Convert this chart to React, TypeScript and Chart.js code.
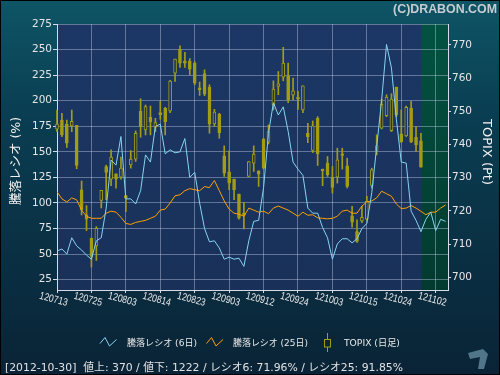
import React, { useEffect, useRef } from 'react';
import { Chart, registerables } from 'chart.js';
Chart.register(...registerables);

// x-axis tick labels (every 7 trading days)
const dateLabels = ['120713', '120725', '120803', '120814', '120823', '120903', '120912', '120924', '121003', '121015', '121024', '121102'];
const labelIdx = [0, 7, 14, 21, 28, 35, 42, 49, 56, 63, 70, 77];

// TOPIX daily candles (Pt)
const opens = [744.6, 747.4, 746.2, 745.6, 745.8, 726.4, 718.8, 711.8, 709.5, 723.2, 733.4, 729.6, 731.2, 730.2, 724.6, 733.9, 735.6, 750.1, 744.4, 748.2, 745.2, 749.6, 751.0, 750.1, 761.5, 768.7, 765.1, 765.1, 764.5, 757.1, 761.4, 757.3, 746.2, 749.2, 736.6, 731.8, 729.6, 725.1, 719.3, 730.4, 734.4, 732.1, 741.6, 740.7, 752.0, 757.5, 760.3, 760.7, 754.9, 754.3, 750.4, 743.4, 738.2, 747.9, 732.6, 734.4, 730.2, 730.2, 737.2, 733.6, 718.5, 713.8, 717.0, 717.5, 727.7, 738.2, 744.9, 748.7, 744.2, 757.3, 743.2, 742.6, 751.0, 742.2, 741.1];
const highs = [750.4, 749.4, 747.4, 750.4, 745.8, 729.0, 721.6, 711.8, 715.3, 726.2, 733.8, 738.4, 731.2, 736.2, 724.6, 738.2, 744.1, 753.8, 751.9, 751.6, 747.9, 753.0, 751.2, 759.3, 765.7, 769.7, 767.8, 765.9, 765.0, 758.8, 762.5, 758.0, 750.6, 749.4, 739.6, 738.1, 729.6, 725.1, 722.6, 734.9, 739.6, 732.1, 741.9, 745.9, 759.2, 762.0, 769.3, 764.5, 760.0, 756.0, 757.7, 746.4, 747.1, 748.4, 732.6, 736.4, 733.4, 738.9, 738.9, 735.9, 721.4, 717.3, 721.4, 724.4, 732.9, 742.9, 753.7, 755.0, 755.3, 757.3, 750.4, 751.6, 753.0, 745.4, 743.4];
const lows = [743.9, 742.4, 739.1, 743.9, 732.7, 718.8, 714.1, 703.1, 705.1, 720.9, 723.4, 727.6, 726.9, 729.6, 719.8, 732.9, 734.9, 742.2, 742.9, 742.9, 743.9, 747.6, 742.9, 749.6, 759.0, 763.2, 763.2, 761.0, 758.0, 754.8, 754.7, 743.4, 745.6, 741.9, 730.4, 726.4, 723.4, 717.5, 714.6, 730.4, 731.9, 727.4, 732.6, 740.2, 750.4, 755.0, 759.2, 752.6, 753.5, 750.6, 749.6, 740.6, 737.6, 733.7, 727.6, 730.4, 725.4, 728.4, 732.6, 726.9, 715.1, 710.5, 716.5, 717.3, 726.9, 736.9, 744.7, 748.4, 743.9, 748.4, 740.6, 742.4, 740.6, 737.9, 733.2];
const closes = [746.2, 742.9, 740.4, 747.0, 733.7, 720.4, 717.5, 706.3, 714.8, 726.2, 731.6, 736.2, 729.6, 732.9, 723.9, 735.6, 743.4, 745.4, 751.4, 746.8, 746.6, 749.0, 746.9, 759.1, 765.7, 764.5, 764.5, 762.7, 758.5, 756.5, 755.2, 746.1, 749.8, 743.6, 731.4, 728.4, 726.4, 717.8, 718.7, 734.9, 737.1, 731.1, 732.9, 743.9, 756.7, 758.3, 764.5, 753.5, 756.2, 753.7, 757.7, 742.4, 745.6, 737.2, 732.1, 730.9, 727.1, 735.4, 736.7, 727.4, 716.6, 710.8, 718.1, 722.9, 732.4, 739.6, 752.2, 754.3, 753.7, 749.0, 740.9, 751.2, 740.8, 739.9, 733.2];

// Advance/decline ratio (%)
const ratio6 = [53, 55, 50, 66, 58, 54, 49, 45, 63, 66, 95, 142, 137, 165, 104, 104, 99, 112, 147, 140, 175, 177, 148, 152, 149, 150, 163, 125, 130, 100, 75, 62, 63, 56, 45, 47, 45, 46, 38, 63, 82, 83, 115, 168, 198, 186, 194, 170, 140, 133, 127, 95, 90, 90, 76, 66, 45, 60, 65, 65, 61, 65, 75, 80, 110, 155, 200, 255, 232, 182, 140, 139, 92, 83, 71.96, 84, 91, 73, 84, 82];
const ratio25 = [111, 104, 101, 105, 103, 93, 87, 85, 85, 85, 90, 92, 91, 86, 80, 79, 81, 82, 83, 85, 87, 93, 94, 100, 107, 108, 112, 114, 113, 112, 116, 115, 122, 112, 102, 94, 90, 89, 87, 95, 93, 91, 92, 89.5, 95, 97, 95, 93, 90, 87, 91, 88, 88.5, 85.5, 85, 84.5, 85, 87, 92, 93, 90, 90, 97, 101, 102, 105, 111.5, 109, 106.6, 99, 94.5, 95, 97.5, 95, 91.85, 88.5, 91, 91, 95, 98];

const leftTicks = [25, 50, 75, 100, 125, 150, 175, 200, 225, 250, 275];
const rightTicks = [700, 710, 720, 730, 740, 750, 760, 770];

const lastDate = '2012-10-30';
const advances = 370;
const declines = 1222;
const lastRatio6 = '71.96';
const lastRatio25 = '91.85';

const W = 500;
const H = 375;
const OLIVE = '#a39d14';
const PLOT_BG = '#1b3562';
const GRID = 'rgba(200,210,230,0.42)';
const AXIS = '#d6dbe6';
const FONT = "'DejaVu Sans', 'Noto Sans CJK JP', sans-serif";

function fitFont(ctx: CanvasRenderingContext2D, text: string, target: number, weight = 'normal', family = FONT, base = 12) {
  ctx.font = `${weight} ${base}px ${family}`;
  const w = ctx.measureText(text).width;
  const size = base * target / w;
  ctx.font = `${weight} ${size.toFixed(2)}px ${family}`;
}

export default function App() {
  const ref = useRef<HTMLCanvasElement>(null);
  useEffect(() => {
    document.body.style.margin = '0';
    const canvas = ref.current!;
    const futureStart = opens.length - 1 + 0.1;

    const deco = {
      id: 'deco',
      beforeDraw(chart: any) {
        const { ctx, chartArea: a, scales } = chart;
        ctx.save();
        const g = ctx.createLinearGradient(0, 0, 0, H);
        g.addColorStop(0, '#0e5566');
        g.addColorStop(0.3, '#0a3e52');
        g.addColorStop(1, '#0a2336');
        ctx.fillStyle = g;
        ctx.fillRect(0, 0, W, H);
        const pg = ctx.createLinearGradient(0, a.top, 0, a.bottom);
        pg.addColorStop(0, '#1c3765');
        pg.addColorStop(1, '#193159');
        ctx.fillStyle = pg;
        ctx.fillRect(a.left, a.top, a.right - a.left, a.bottom - a.top);
        const fx = scales.x.getPixelForValue(futureStart);
        const gg = ctx.createLinearGradient(0, a.top, 0, a.bottom);
        gg.addColorStop(0, '#035241');
        gg.addColorStop(1, '#033a30');
        ctx.fillStyle = gg;
        ctx.fillRect(fx, a.top, a.right - fx, a.bottom - a.top);
        ctx.restore();
      },
      afterDraw(chart: any) {
        const { ctx, scales } = chart;
        ctx.save();
        // x labels (slightly rotated)
        ctx.fillStyle = '#e6e6e6';
        labelIdx.forEach((idx, k) => {
          const px = scales.x.getPixelForValue(idx);
          ctx.save();
          ctx.translate(px - 3.5, 299.5);
          ctx.rotate((15 * Math.PI) / 180);
          ctx.font = "10.5px 'Liberation Sans', sans-serif";
          const w = ctx.measureText(dateLabels[k]).width;
          ctx.scale(29 / w, 1);
          ctx.textAlign = 'center';
          ctx.textBaseline = 'middle';
          ctx.fillText(dateLabels[k], 0, 0);
          ctx.restore();
        });
        // axis titles
        ctx.fillStyle = '#f2f2f2';
        ctx.textAlign = 'center';
        ctx.textBaseline = 'middle';
        ctx.save();
        ctx.translate(17, 161);
        ctx.rotate(-Math.PI / 2);
        fitFont(ctx, '騰落レシオ (%)', 88, 'normal', FONT, 13);
        ctx.fillText('騰落レシオ (%)', 0, 0);
        ctx.restore();
        ctx.save();
        ctx.translate(486, 152);
        ctx.rotate(Math.PI / 2);
        fitFont(ctx, 'TOPIX (Pt)', 66, 'normal', FONT, 13);
        ctx.fillText('TOPIX (Pt)', 0, 0);
        ctx.restore();
        // copyright
        ctx.fillStyle = '#c8ccd0';
        ctx.textAlign = 'right';
        ctx.textBaseline = 'alphabetic';
        fitFont(ctx, '(C)DRABON.COM', 104, 'bold', "'Liberation Sans', sans-serif", 12);
        ctx.fillText('(C)DRABON.COM', 497, 13);
        // legend
        ctx.lineWidth = 1;
        const zig = (x0: number, color: string) => {
          ctx.strokeStyle = color;
          ctx.beginPath();
          ctx.moveTo(x0, 343.5);
          ctx.lineTo(x0 + 5, 337.5);
          ctx.lineTo(x0 + 9.5, 346);
          ctx.lineTo(x0 + 16.5, 339.5);
          ctx.stroke();
        };
        zig(100, '#86d3f2');
        zig(206.5, '#ffa000');
        ctx.strokeStyle = OLIVE;
        ctx.beginPath();
        ctx.moveTo(327.5, 333);
        ctx.lineTo(327.5, 339);
        ctx.moveTo(327.5, 347);
        ctx.lineTo(327.5, 352);
        ctx.stroke();
        ctx.strokeRect(324.5, 339.5, 6, 7.5);
        ctx.fillStyle = '#e8e8e8';
        ctx.textAlign = 'left';
        ctx.textBaseline = 'middle';
        const leg: [string, number, number][] = [
          ['騰落レシオ (6日)', 127, 70],
          ['騰落レシオ (25日)', 233, 75],
          ['TOPIX (日足)', 344, 56],
        ];
        leg.forEach(([t, x, w]) => {
          fitFont(ctx, t, w, 'normal', FONT, 10);
          ctx.fillText(t, x, 343.5);
        });
        // status line
        const status = `[${lastDate}]  値上: ${advances} / 値下: ${declines} / レシオ6: ${lastRatio6}% / レシオ25: ${lastRatio25}%`;
        ctx.fillStyle = '#e2e2e2';
        ctx.textBaseline = 'alphabetic';
        fitFont(ctx, status, 398, 'normal', FONT, 12);
        ctx.fillText(status, 5, 371);
        // small logo bottom-right
        ctx.fillStyle = 'rgba(105,145,165,0.75)';
        ctx.beginPath();
        ctx.moveTo(468, 353);
        ctx.lineTo(483, 349);
        ctx.lineTo(488, 354);
        ctx.lineTo(484, 369);
        ctx.lineTo(478, 369);
        ctx.lineTo(480, 357);
        ctx.lineTo(470, 359);
        ctx.closePath();
        ctx.fill();
        // border
        ctx.strokeStyle = '#000';
        ctx.lineWidth = 1;
        ctx.strokeRect(0.5, 0.5, W - 1, H - 1);
        ctx.restore();
      },
    };

    const bodies = opens.map((o, i) => ({ x: i, y: [Math.min(o, closes[i]), Math.max(o, closes[i])] }));
    const wicks = opens.map((_, i) => ({ x: i, y: [lows[i], highs[i]] }));
    const bodyBg = opens.map((o, i) => (closes[i] >= o ? PLOT_BG : OLIVE));

    const chart = new Chart(canvas, {
      type: 'bar',
      data: {
        datasets: [
          {
            type: 'line',
            label: '騰落レシオ (6日)',
            data: ratio6.map((v, i) => ({ x: i, y: v })),
            yAxisID: 'y',
            borderColor: '#86d3f2',
            borderWidth: 1,
            pointRadius: 0,
            tension: 0,
            order: 1,
          } as any,
          {
            type: 'line',
            label: '騰落レシオ (25日)',
            data: ratio25.map((v, i) => ({ x: i, y: v })),
            yAxisID: 'y',
            borderColor: '#ffa000',
            borderWidth: 1,
            pointRadius: 0,
            tension: 0,
            order: 2,
          } as any,
          {
            type: 'bar',
            label: 'TOPIX (日足)',
            data: bodies,
            yAxisID: 'y1',
            backgroundColor: bodyBg,
            borderColor: OLIVE,
            borderWidth: 1,
            borderSkipped: false,
            barThickness: 3,
            grouped: false,
            clip: false,
            order: 3,
          } as any,
          {
            type: 'bar',
            label: 'wick',
            data: wicks,
            yAxisID: 'y1',
            backgroundColor: OLIVE,
            borderWidth: 0,
            barThickness: 1,
            grouped: false,
            clip: false,
            order: 4,
          } as any,
        ],
      },
      options: {
        responsive: false,
        animation: false,
        events: [],
        layout: { padding: { top: 24, left: 0, right: 0, bottom: 0 } },
        plugins: { legend: { display: false }, tooltip: { enabled: false } },
        scales: {
          x: {
            type: 'linear',
            min: 0,
            max: 79.5,
            offset: false,
            afterBuildTicks: (s: any) => {
              s.ticks = labelIdx.map((v) => ({ value: v }));
            },
            afterFit: (s: any) => {
              s.height = 85;
            },
            ticks: { display: false },
            grid: { color: GRID, offset: false, drawTicks: true, tickLength: 3, tickColor: AXIS },
            border: { display: true, color: AXIS, width: 1 },
          },
          y: {
            type: 'linear',
            position: 'left',
            min: 14.9,
            max: 275,
            afterBuildTicks: (s: any) => {
              s.ticks = leftTicks.map((v) => ({ value: v }));
            },
            afterFit: (s: any) => {
              s.width = 57;
            },
            ticks: { color: '#e6e6e6', font: { family: 'DejaVu Sans', size: 10.5 }, padding: 1, autoSkip: false },
            grid: { color: GRID, tickLength: 4, tickColor: AXIS },
            border: { display: true, color: AXIS, width: 1 },
          },
          y1: {
            type: 'linear',
            position: 'right',
            min: 696.2,
            max: 776.3,
            afterBuildTicks: (s: any) => {
              s.ticks = rightTicks.map((v) => ({ value: v }));
            },
            afterFit: (s: any) => {
              s.width = 52;
            },
            ticks: { color: '#e6e6e6', font: { family: 'DejaVu Sans', size: 10.5 }, padding: 1, autoSkip: false },
            grid: { drawOnChartArea: false, tickLength: 3, tickColor: AXIS },
            border: { display: true, color: AXIS, width: 1 },
          },
        },
      } as any,
      plugins: [deco],
    });
    return () => chart.destroy();
  }, []);
  return (
    <div style={{ width: W, height: H }}>
      <canvas ref={ref} width={W} height={H} style={{ display: 'block' }} />
    </div>
  );
}
